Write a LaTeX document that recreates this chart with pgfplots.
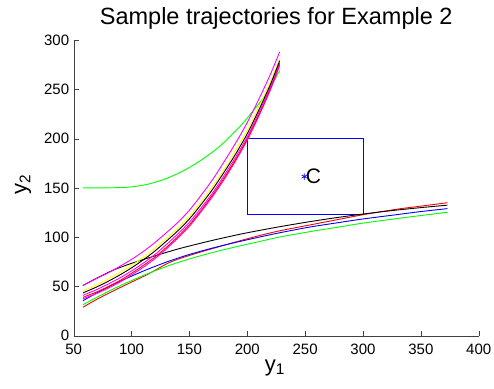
\documentclass[border=0pt]{standalone}
\usepackage{fontspec}
\setmainfont{Liberation Sans}
\usepackage{pgfplots}
\pgfplotsset{compat=1.18}
\definecolor{mgreen}{rgb}{0,1,0}
\definecolor{myellow}{rgb}{1,1,0}
\definecolor{mmag}{rgb}{1,0,1}
\definecolor{mred}{rgb}{1,0,0}
\definecolor{mblue}{rgb}{0,0,1}
\begin{document}
\begin{tikzpicture}
\useasboundingbox (-73.7pt,-52.2pt) rectangle (420.3pt,335.8pt);
\begin{axis}[
  at={(0pt,0pt)}, anchor=south west,
  scale only axis, width=405pt, height=295.8pt,
  xmin=50, xmax=400, ymin=0, ymax=300,
  xtick={50,100,...,400}, ytick={0,50,...,300},
  axis lines=left, axis line style={-, black!75},
  tick align=inside, major tick length=5pt, tick style={black!75},
  /pgf/number format/assume math mode=true,
  ticklabel style={font=\fontsize{15}{18}\selectfont},
  xticklabel style={yshift=-5pt},
  yticklabel style={xshift=-1pt},
  title={Sample trajectories for Example 2},
  title style={font=\fontsize{23.5}{28}\selectfont, at={(axis description cs:0.5,1)}, anchor=base, yshift=9.5pt},
  xlabel={y\textsubscript{1}},
  xlabel style={font=\fontsize{22}{26}\selectfont, at={(axis description cs:0.497,0)}, anchor=base, yshift=-35.2pt},
  ylabel={y\textsubscript{2}},
  ylabel style={font=\fontsize{22}{26}\selectfont, at={(axis description cs:0,0.51)}, anchor=base, yshift=47pt},
  every axis plot/.append style={line width=0.9pt, smooth},
  clip=false,
]
% box around target
\addplot[mblue, sharp plot] coordinates {(200,123.5) (300,123.5) (300,200) (200,200) (200,123.5)};
% lower family
\addplot[mred] coordinates {(58,29) (70,37) (85,46) (100,54.5) (115,63) (133,74.5) (150,81.5) (170,88.5) (191,95.5) (210,101.5) (228,106.5) (254,112.4) (280,118.3) (300,122.8) (330,128.5) (350,131.5) (373,135)};
\addplot[mgreen] coordinates {(58,31.5) (70,39) (85,48) (100,56) (115,63.5) (133,71.5) (150,78) (170,84.5) (191,90.5) (210,95.5) (228,100.2) (254,105.6) (280,110.5) (300,114.3) (330,119) (350,122) (373,125.3)};
\addplot[mblue] coordinates {(58,35.6) (70,43.5) (85,52.5) (100,60.5) (115,68) (133,76) (150,82.5) (170,89) (191,95) (210,100) (228,104.5) (254,110.3) (280,115) (300,118.5) (330,123) (350,126) (373,129)};
\addplot[black] coordinates {(58,51) (70,58.5) (84,66.5) (100,73.5) (120,81) (140,88) (160,94) (180,99.5) (200,104.5) (225,110) (250,115) (275,119.5) (300,123.5) (325,127) (350,130) (373,132.5)};
% upper family
\addplot[mgreen] coordinates {(58,150) (70,150) (85,150.2) (100,151) (115,154) (130,159.5) (145,167.5) (160,178) (175,191) (185,202) (195,214) (205,228) (212,238.5) (220,252) (228,269)};
\addplot[mmag] coordinates {(58,37.5) (70,43) (80,48.4) (90,54.5) (100,61.7) (110,69.4) (120,78) (130,88) (140,99) (150,111) (160,125.6) (170,141.2) (180,158.5) (190,177.5) (200,198.4) (210,222.8) (220,249.4) (228,274)};
\addplot[mred] coordinates {(58,39) (70,44.6) (80,50) (90,56.1) (100,63.4) (110,71.2) (120,79.7) (130,89.6) (140,100.6) (150,112.6) (160,127.2) (170,142.8) (180,160.2) (190,179) (200,199.9) (210,224.2) (220,250.9) (228,275.6)};
\addplot[mmag] coordinates {(58,41) (70,47) (80,52.6) (90,58.8) (100,65.8) (110,73.6) (120,82.3) (130,92.5) (140,103.3) (150,115.2) (160,129.6) (170,145) (180,162.7) (190,181.4) (200,201.9) (210,226.3) (220,252.5) (228,277)};
\addplot[myellow] coordinates {(58,45.5) (70,51.8) (80,57.8) (90,64.4) (100,71.3) (110,79.5) (120,88.6) (130,98.8) (140,109.2) (150,121.2) (160,136) (170,151.5) (180,169) (190,188.4) (200,208.5) (210,232.2) (220,257.8) (228,281.2)};
\addplot[black] coordinates {(58,43.5) (70,49.6) (80,55.4) (90,61.8) (100,68.9) (110,76.9) (120,85.8) (130,95.9) (140,106.5) (150,118.5) (160,133) (170,148.5) (180,166) (190,184.5) (200,205) (210,229) (220,255) (228,279)};
\addplot[mmag] coordinates {(58,51) (70,58.3) (80,64) (90,70.5) (100,77.5) (110,85.4) (120,94.4) (130,104.5) (140,115) (150,127.4) (160,142.3) (170,158.4) (180,176.6) (190,195.6) (200,216.3) (210,240) (220,265.2) (228,288)};
% target point
\addplot[mblue, only marks, mark=asterisk, mark size=3.2pt, line width=0.7pt] coordinates {(249.3,161.5)};
\node[anchor=west, inner sep=0.5pt, font=\fontsize{21}{25}\selectfont] at (axis cs:250,161.5) {C};
\end{axis}
\end{tikzpicture}
\end{document}
